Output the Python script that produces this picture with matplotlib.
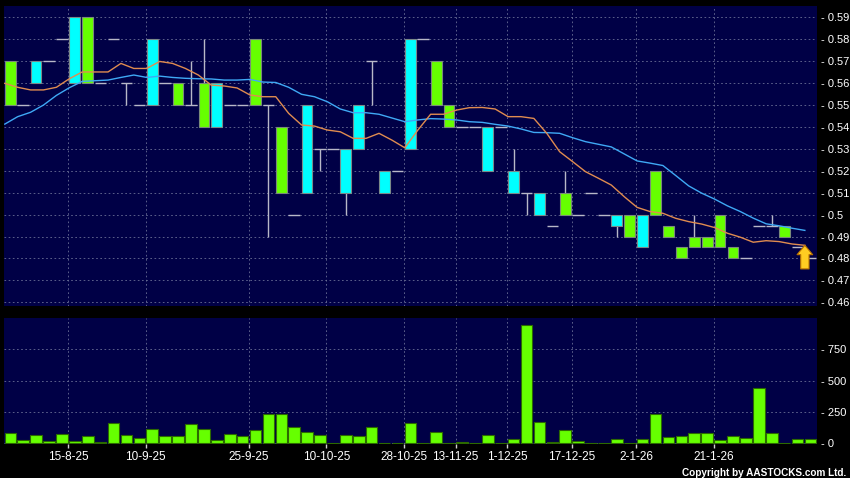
import numpy as np
import matplotlib.pyplot as plt

plt.rcParams['font.family'] = ['Liberation Sans', 'DejaVu Sans']

# daily candles (price)
opens = [0.57, 0.55, 0.56, 0.57, 0.58, 0.56, 0.59, 0.56, 0.58, 0.56,
         0.55, 0.55, 0.56, 0.56, 0.55, 0.56, 0.54, 0.55, 0.55, 0.58,
         0.55, 0.54, 0.50, 0.51, 0.53, 0.53, 0.51, 0.53, 0.57, 0.51,
         0.52, 0.53, 0.58, 0.57, 0.55, 0.54, 0.54, 0.52, 0.54, 0.51,
         0.51, 0.50, 0.495, 0.51, 0.50, 0.51, 0.50, 0.495, 0.50, 0.485,
         0.52, 0.495, 0.485, 0.49, 0.49, 0.50, 0.485, 0.48, 0.495, 0.495,
         0.495, 0.485, 0.48]
closes = [0.55, 0.55, 0.57, 0.57, 0.58, 0.59, 0.56, 0.56, 0.58, 0.56,
          0.55, 0.58, 0.56, 0.55, 0.55, 0.54, 0.56, 0.55, 0.55, 0.55,
          0.55, 0.51, 0.50, 0.55, 0.53, 0.53, 0.53, 0.55, 0.57, 0.52,
          0.52, 0.58, 0.58, 0.55, 0.54, 0.54, 0.54, 0.54, 0.54, 0.52,
          0.51, 0.51, 0.495, 0.50, 0.50, 0.51, 0.50, 0.50, 0.49, 0.50,
          0.50, 0.49, 0.48, 0.485, 0.485, 0.485, 0.48, 0.48, 0.495, 0.495,
          0.49, 0.485, 0.48]
highs = [0.57, 0.55, 0.57, 0.57, 0.58, 0.59, 0.59, 0.56, 0.58, 0.56,
         0.55, 0.58, 0.56, 0.56, 0.57, 0.58, 0.56, 0.55, 0.55, 0.58,
         0.55, 0.54, 0.50, 0.55, 0.53, 0.53, 0.53, 0.55, 0.57, 0.52,
         0.52, 0.58, 0.58, 0.57, 0.55, 0.54, 0.54, 0.54, 0.54, 0.53,
         0.51, 0.51, 0.495, 0.52, 0.50, 0.51, 0.50, 0.50, 0.50, 0.50,
         0.52, 0.495, 0.485, 0.50, 0.49, 0.50, 0.485, 0.48, 0.495, 0.50,
         0.495, 0.485, 0.48]
lows = [0.55, 0.55, 0.56, 0.57, 0.58, 0.56, 0.56, 0.56, 0.58, 0.55,
        0.55, 0.55, 0.56, 0.55, 0.55, 0.54, 0.54, 0.55, 0.55, 0.55,
        0.49, 0.51, 0.50, 0.51, 0.52, 0.53, 0.50, 0.53, 0.55, 0.51,
        0.52, 0.53, 0.58, 0.55, 0.54, 0.54, 0.54, 0.52, 0.54, 0.51,
        0.50, 0.50, 0.495, 0.50, 0.50, 0.51, 0.50, 0.49, 0.49, 0.485,
        0.50, 0.49, 0.48, 0.485, 0.485, 0.485, 0.48, 0.48, 0.495, 0.495,
        0.49, 0.485, 0.48]

# moving averages as drawn (10-day orange, 20-day blue)
ma10 = [0.5599, 0.5581, 0.5569, 0.5569, 0.5581, 0.5620, 0.5651, 0.5651, 0.5651, 0.5690,
        0.5667, 0.5667, 0.5699, 0.5690, 0.5667, 0.5637, 0.5591, 0.5587, 0.5578, 0.5546,
        0.5538, 0.5538, 0.5462, 0.5409, 0.5404, 0.5386, 0.5378, 0.5348, 0.5348, 0.5371,
        0.5340, 0.5305, 0.5385, 0.5458, 0.5458, 0.5477, 0.5488, 0.5489, 0.5482, 0.5447,
        0.5447, 0.5439, 0.5371, 0.5287, 0.5242, 0.5196, 0.5166, 0.5135, 0.5082, 0.5033,
        0.5014, 0.5006, 0.4983, 0.4968, 0.4957, 0.4941, 0.4915, 0.4897, 0.4874, 0.4881,
        0.4877, 0.4866, 0.4860]
ma20 = [0.5413, 0.5447, 0.5467, 0.5500, 0.5544, 0.5579, 0.5608, 0.5611, 0.5614, 0.5626,
        0.5637, 0.5626, 0.5632, 0.5626, 0.5622, 0.5620, 0.5619, 0.5614, 0.5614, 0.5617,
        0.5605, 0.5603, 0.5581, 0.5549, 0.5538, 0.5515, 0.5482, 0.5465, 0.5465, 0.5458,
        0.5441, 0.5424, 0.5432, 0.5438, 0.5436, 0.5432, 0.5424, 0.5421, 0.5412, 0.5404,
        0.5391, 0.5375, 0.5374, 0.5371, 0.5351, 0.5333, 0.5321, 0.5309, 0.5277, 0.5245,
        0.5235, 0.5224, 0.5178, 0.5131, 0.5098, 0.5071, 0.5040, 0.5014, 0.4984, 0.4958,
        0.4949, 0.4938, 0.4928]

# volume ('000)
volume = [80, 24, 64, 16, 74, 16, 56, 11, 160, 66, 40, 117, 61, 56, 157, 114, 27, 72, 59, 109,
          234, 237, 128, 90, 64, 2, 66, 56, 128, 2, 5, 165, 2, 93, 5, 11, 5, 69, 2, 37,
          941, 170, 11, 106, 16, 5, 2, 32, 5, 32, 234, 50, 56, 80, 85, 27, 61, 45, 439, 80,
          5, 37, 37]

tick_bars = [4, 10, 18, 24, 30, 34, 38, 43, 48, 54]
tick_labels = ['15-8-25', '10-9-25', '25-9-25', '10-10-25', '28-10-25',
               '13-11-25', '1-12-25', '17-12-25', '2-1-26', '21-1-26']

o = np.array(opens)
c = np.array(closes)
h = np.array(highs)
l = np.array(lows)
x = np.arange(len(o))

navy = '#000046'
lime = '#66ff00'
cyan = '#00ffff'
gridc = '#6a6f96'

fig = plt.figure(figsize=(8.5, 4.78), dpi=100, facecolor='black')
ax1 = fig.add_axes([4 / 850, 1 - 306 / 478, 813 / 850, 300 / 478], facecolor=navy)
ax2 = fig.add_axes([4 / 850, 1 - 444 / 478, 813 / 850, 126 / 478], facecolor=navy)

# candles
wick = h > l
ax1.vlines(x[wick], l[wick], h[wick], color='#b8b8c8', lw=1, zorder=2)
doji = o == c
ax1.hlines(c[doji], x[doji] - 0.45, x[doji] + 0.45, color='#b8b8c8', lw=1, zorder=2)
up = c > o
down = c < o
ax1.bar(x[up], (c - o)[up], bottom=o[up], width=0.83, color=cyan,
        edgecolor='#7a8a8a', lw=0.8, zorder=3)
ax1.bar(x[down], (o - c)[down], bottom=c[down], width=0.83, color=lime,
        edgecolor='#7a8a7a', lw=0.8, zorder=3)

# moving averages
xm = np.arange(len(ma10)) - 0.43
ax1.plot(xm, ma20, color='#3fa9f5', lw=1, zorder=4)
ax1.plot(xm, ma10, color='#e08c50', lw=1, zorder=4)

# last price marker
ax1.annotate('', xy=(xm[-1], ma10[-1]), xytext=(0, -17), textcoords='offset points',
             arrowprops=dict(arrowstyle='simple,head_length=0.45,head_width=0.75,tail_width=0.4',
                             mutation_scale=15, shrinkA=0, shrinkB=0,
                             fc='#ffcc22', ec='#b87000', lw=0.8),
             zorder=6)

# volume
ax2.bar(x, volume, width=0.9, color=lime, edgecolor='#2c6a00', lw=0.8, zorder=3)

yt = np.round(np.arange(0.46, 0.595, 0.01), 2)
ax1.set_ylim(0.4583, 0.5952)
ax1.set_yticks(yt)
ax1.set_yticklabels(['- %g' % v for v in yt])
ax2.set_ylim(-5, 1000)
ax2.set_yticks([0, 250, 500, 750])
ax2.set_yticklabels(['- 0', '- 250', '- 500', '- 750'])

for ax in (ax1, ax2):
    ax.set_xlim(-0.49, 62.51)
    ax.set_xticks(np.array(tick_bars) + 0.5)
    ax.yaxis.tick_right()
    ax.tick_params(axis='y', length=0, pad=3, labelsize=8, labelcolor='white')
    ax.grid(color=gridc, linestyle=(0, (2, 3)), lw=0.6, zorder=0)
    ax.set_axisbelow(True)
    for s in ax.spines.values():
        s.set_visible(False)

ax1.tick_params(axis='x', length=0, labelbottom=False)
ax2.set_xticklabels(tick_labels)
ax2.tick_params(axis='x', length=3, width=1, color='#d0d0d0', pad=2,
                labelsize=8.5, labelcolor='white')

fig.text(846 / 850, 1 - 472.5 / 478, 'Copyright by AASTOCKS.com Ltd.', ha='right',
         va='center', fontsize=7.2, fontweight='bold', color='white')

fig.savefig('out.png', dpi=100, facecolor='black')
